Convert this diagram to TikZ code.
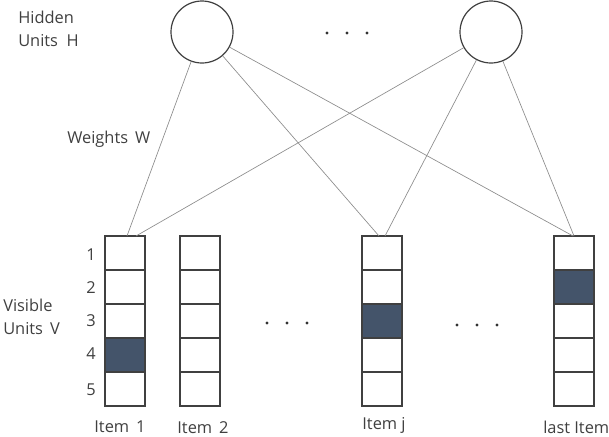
\documentclass[tikz,border=0pt]{standalone}
\usepackage{fontspec}
\setmainfont{Open Sans}
\begin{document}
\begin{tikzpicture}[x=0.75pt,y=-0.75pt,
  lbl/.style={text=black!75, font=\fontsize{12.3}{17}\selectfont, inner sep=0pt},
  unit/.style={circle, draw=black!75, line width=0.9pt, minimum size=46.5pt, inner sep=0pt},
  cell/.style={draw=black!75, line width=0.9pt, fill=white, minimum width=30pt, minimum height=25.5pt, inner sep=0pt},
  on/.style={cell, fill=shade},
  wire/.style={draw=black!45, line width=0.5pt},
  dot/.style={circle, fill=black!80, inner sep=0pt, minimum size=2.4pt}
]
\definecolor{shade}{HTML}{44546A}
\useasboundingbox (0,0) rectangle (609,436);
% hidden units
\node[unit] (h1) at (202,32) {};
\node[unit] (h2) at (491,32) {};
\node[dot] (d1) at (327,33) {};
\node[dot] (d2) at (347,33) {};
\node[dot] (d3) at (367,33) {};
% columns
\foreach \name/\cx/\sh in {a/125/4, b/200/0, j/382/3, l/574/2}{
  \foreach \i in {1,...,5}{
    \ifnum\i=\sh
      \node[on] (\name\i) at (\cx,{236+17+34*(\i-1)}) {};
    \else
      \node[cell] (\name\i) at (\cx,{236+17+34*(\i-1)}) {};
    \fi
  }
}
% wire end points
\coordinate (ta1) at (127,236);
\coordinate (ta2) at (136,236);
\coordinate (tj1) at (379,236);
\coordinate (tj2) at (385,236);
\coordinate (tl1) at (573,236);
\coordinate (tl2) at (574,236);
\draw[wire] (h1) -- (ta1);
\draw[wire] (h1) -- (tj1);
\draw[wire] (h1) -- (tl1);
\draw[wire] (h2) -- (ta2);
\draw[wire] (h2) -- (tj2);
\draw[wire] (h2) -- (tl2);
% dots between columns
\node[dot] (e1) at (267,323) {};
\node[dot] (e2) at (287,323) {};
\node[dot] (e3) at (307,323) {};
\node[dot] (f1) at (457,325) {};
\node[dot] (f2) at (477,325) {};
\node[dot] (f3) at (497,325) {};
% labels
\node[lbl, anchor=west, align=left] (hl) at (18,29) {Hidden\\Units\ \ H};
\node[lbl, anchor=west] (wl) at (67,139) {Weights\ \,W};
\node[lbl, anchor=west, align=left] (vl) at (3,317) {Visible\\Units\ \,V};
\node[lbl] (n1) at (91,255) {1};
\node[lbl] (n2) at (91,288) {2};
\node[lbl] (n3) at (91,321) {3};
\node[lbl] (n4) at (91,354) {4};
\node[lbl] (n5) at (91,390) {5};
\node[lbl] (i1) at (120,427) {Item\ \,1};
\node[lbl] (i2) at (203,428) {Item\ \,2};
\node[lbl] (ij) at (384,425) {Item\ j};
\node[lbl, anchor=west] (il) at (543,427) {last\ Item};
\end{tikzpicture}
\end{document}
